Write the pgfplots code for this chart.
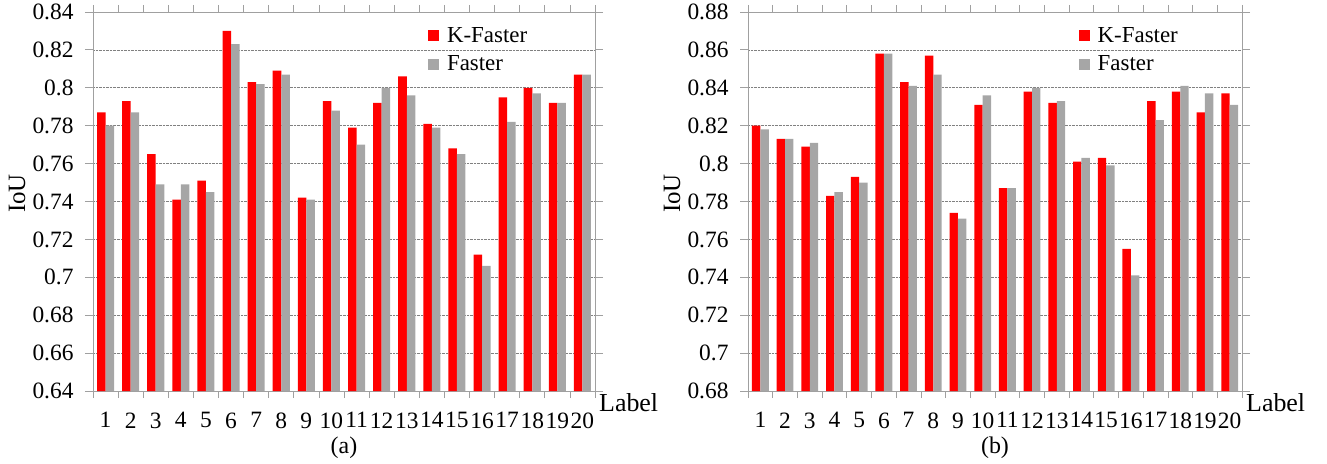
\documentclass[border=0pt]{standalone}
\usepackage{fontspec}
\setmainfont{Liberation Serif}
\usepackage{pgfplots}
\pgfplotsset{compat=1.18}
\definecolor{kred}{HTML}{FF0000}
\definecolor{fgray}{HTML}{A6A6A6}
\definecolor{axgray}{HTML}{A0A0A0}
\definecolor{gridgray}{HTML}{808080}

\pgfplotsset{
  iouplot/.style={
    scale only axis, height=379bp,
    ybar=0pt, bar width=0.34,
    xmin=0.5, xmax=20.5,
    xtick={1,...,20},
    minor xtick={0.5,1.5,...,20.5},
    major x tick style={draw=none},
    minor tick length=7bp, major tick length=8bp,
    tick align=outside,
    tick style={axgray, line width=0.8pt},
    axis line style={axgray, line width=0.8pt},
    ytick distance=0.02,
    ymajorgrids,
    grid style={gridgray, densely dotted, line width=0.6pt},
    font=\fontsize{23.5}{27}\selectfont,
    /pgf/number format/assume math mode=true,
    yticklabel style={/pgf/number format/fixed, /pgf/number format/precision=2, xshift=-8bp},
    xticklabel style={yshift=-10bp, inner xsep=0pt},
    ylabel={IoU},
    ylabel style={at={(axis description cs:0,0.5)}, anchor=center, yshift=76bp, xshift=8bp, font=\fontsize{25}{28}\selectfont},
    legend style={draw=none, fill=none, anchor=north west, inner sep=0pt,
      row sep=12bp, font=\fontsize{23}{27}\selectfont,
      nodes={inner sep=0pt}},
    legend cell align=left,
    legend image code/.code={\fill[#1,draw=none] (0bp,-5.5bp) rectangle (11bp,5.5bp); \path (19bp,0bp);},
    clip=false,
  },
  kbar/.style={fill=kred, draw=none},
  fbar/.style={fill=fgray, draw=none},
}

\begin{document}
\begin{tikzpicture}
\path[use as bounding box] (-93bp,-73bp) rectangle (1234bp,391bp);

% (a)
\begin{axis}[iouplot, width=502bp, ymin=0.64, ymax=0.84,
  legend style={at={(0.667,0.96)}}]
\addplot[kbar] coordinates {
 (1,0.787) (2,0.793) (3,0.765) (4,0.741) (5,0.751)
 (6,0.830) (7,0.803) (8,0.809) (9,0.742) (10,0.793)
 (11,0.779) (12,0.792) (13,0.806) (14,0.781) (15,0.768)
 (16,0.712) (17,0.795) (18,0.800) (19,0.792) (20,0.807)};
\addplot[fbar] coordinates {
 (1,0.780) (2,0.787) (3,0.749) (4,0.749) (5,0.745)
 (6,0.823) (7,0.802) (8,0.807) (9,0.741) (10,0.788)
 (11,0.770) (12,0.800) (13,0.796) (14,0.779) (15,0.765)
 (16,0.706) (17,0.782) (18,0.797) (19,0.792) (20,0.807)};
\legend{K-Faster, Faster}
\node[anchor=west, font=\fontsize{26}{28}\selectfont, inner sep=0pt]
  at (rel axis cs:1,0) [xshift=4bp, yshift=-12bp] {Label};
\node[font=\fontsize{24}{28}\selectfont, inner sep=0pt]
  at (rel axis cs:0.5,0) [yshift=-57bp] {(a)};
\end{axis}

% (b)
\begin{axis}[iouplot, at={(655bp,0bp)}, width=494bp, ymin=0.68, ymax=0.88,
  legend style={at={(0.669,0.96)}}]
\addplot[kbar] coordinates {
 (1,0.820) (2,0.813) (3,0.809) (4,0.783) (5,0.793)
 (6,0.858) (7,0.843) (8,0.857) (9,0.774) (10,0.831)
 (11,0.787) (12,0.838) (13,0.832) (14,0.801) (15,0.803)
 (16,0.755) (17,0.833) (18,0.838) (19,0.827) (20,0.837)};
\addplot[fbar] coordinates {
 (1,0.818) (2,0.813) (3,0.811) (4,0.785) (5,0.790)
 (6,0.858) (7,0.841) (8,0.847) (9,0.771) (10,0.836)
 (11,0.787) (12,0.840) (13,0.833) (14,0.803) (15,0.799)
 (16,0.741) (17,0.823) (18,0.841) (19,0.837) (20,0.831)};
\legend{K-Faster, Faster}
\node[anchor=west, font=\fontsize{26}{28}\selectfont, inner sep=0pt]
  at (rel axis cs:1,0) [xshift=4bp, yshift=-12bp] {Label};
\node[font=\fontsize{24}{28}\selectfont, inner sep=0pt]
  at (rel axis cs:0.5,0) [yshift=-57bp] {(b)};
\end{axis}
\end{tikzpicture}
\end{document}
